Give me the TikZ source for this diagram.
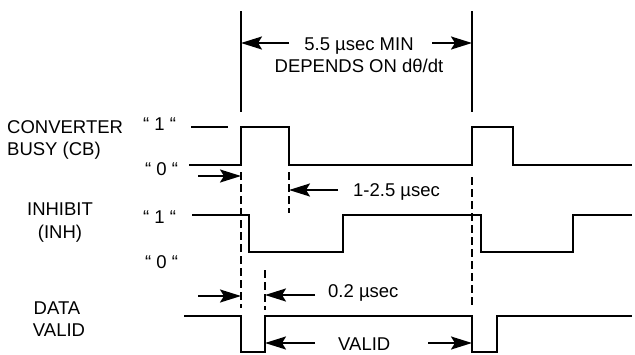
\documentclass[tikz,border=0pt]{standalone}
\usepackage{fontspec}
\setmainfont{Liberation Sans}
\usetikzlibrary{arrows.meta}
\begin{document}
\begin{tikzpicture}[x=1pt,y=-1pt,
  sig/.style={line width=2.8pt, line join=miter},
  guide/.style={line width=2.8pt},
  dsh/.style={line width=2.6pt, dash pattern=on 8pt off 4pt},
  dim/.style={line width=2.2pt, -{Stealth[length=21pt,width=13pt,inset=4pt]}},
  lbl/.style={font=\fontsize{18.5}{21}\selectfont, inner sep=0pt},
]
\useasboundingbox (0,0) rectangle (635,354);

% ---- labels ----
\node[lbl, anchor=base west] (conv) at (7,133) {CONVERTER};
\node[lbl, anchor=base west] (busy) at (7,155) {BUSY (CB)};
\node[lbl, anchor=base] (inh) at (60,215) {INHIBIT};
\node[lbl, anchor=base] (inhb) at (60,238) {(INH)};
\node[lbl, anchor=base] (data) at (57,314) {DATA};
\node[lbl, anchor=base] (valid) at (59,336) {VALID};

\node[lbl, anchor=base west] (cb1) at (143,130) {“ 1 “};
\node[lbl, anchor=base west] (cb0) at (145,175) {“ 0 “};
\node[lbl, anchor=base west] (in1) at (143,223) {“ 1 “};
\node[lbl, anchor=base west] (in0) at (145,268) {“ 0 “};

\node[lbl, anchor=base] (t55) at (359,50) {5.5 µsec MIN};
\node[lbl, anchor=base] (tdep) at (359,72) {DEPENDS ON dθ/dt};
\node[lbl, anchor=base west] (t125) at (353,196) {1-2.5 µsec};
\node[lbl, anchor=base west] (t02) at (328,297) {0.2 µsec};
\node[lbl, anchor=base west] (tval) at (338,350) {VALID};

% ---- signals ----
\draw[sig] (191,127) -- (228,127);
\draw[sig] (189,165) -- (241,165) -- (241,127) -- (289,127) -- (289,165)
  -- (472,165) -- (472,127) -- (513,127) -- (513,165) -- (632,165);
\draw[sig] (192,215) -- (249,215) -- (249,252) -- (343,252) -- (343,215)
  -- (481,215) -- (481,252) -- (573,252) -- (573,215) -- (632,215);
\draw[sig] (184,316) -- (241,316) -- (241,352) -- (265,352) -- (265,316)
  -- (472,316) -- (472,352) -- (497,352) -- (497,316) -- (632,316);

% ---- guides ----
\coordinate (gA1) at (241,11); \coordinate (gA2) at (241,112);
\coordinate (gB1) at (472,11); \coordinate (gB2) at (472,112);
\draw[guide] (gA1) -- (gA2);
\draw[guide] (gB1) -- (gB2);
\draw[dsh] (241,172) -- (241,308);
\draw[dsh] (289,172) -- (289,213);
\draw[dsh] (265,270) -- (265,310);
\draw[dsh] (472,177) -- (472,307);

% ---- dimension arrows ----
\coordinate (a1s) at (289,43);  \coordinate (a1e) at (241,43);
\coordinate (a2s) at (432,43);  \coordinate (a2e) at (472,43);
\coordinate (a3s) at (198,176); \coordinate (a3e) at (241,176);
\coordinate (a4s) at (338,190); \coordinate (a4e) at (289,190);
\coordinate (a5s) at (198,296); \coordinate (a5e) at (241,296);
\coordinate (a6s) at (315,295); \coordinate (a6e) at (265,295);
\coordinate (a7s) at (315,343); \coordinate (a7e) at (265,343);
\coordinate (a8s) at (428,343); \coordinate (a8e) at (472,343);
\draw[dim] (a1s) -- (a1e);
\draw[dim] (a2s) -- (a2e);
\draw[dim] (a3s) -- (a3e);
\draw[dim] (a4s) -- (a4e);
\draw[dim] (a5s) -- (a5e);
\draw[dim] (a6s) -- (a6e);
\draw[dim] (a7s) -- (a7e);
\draw[dim] (a8s) -- (a8e);
\end{tikzpicture}
\end{document}
